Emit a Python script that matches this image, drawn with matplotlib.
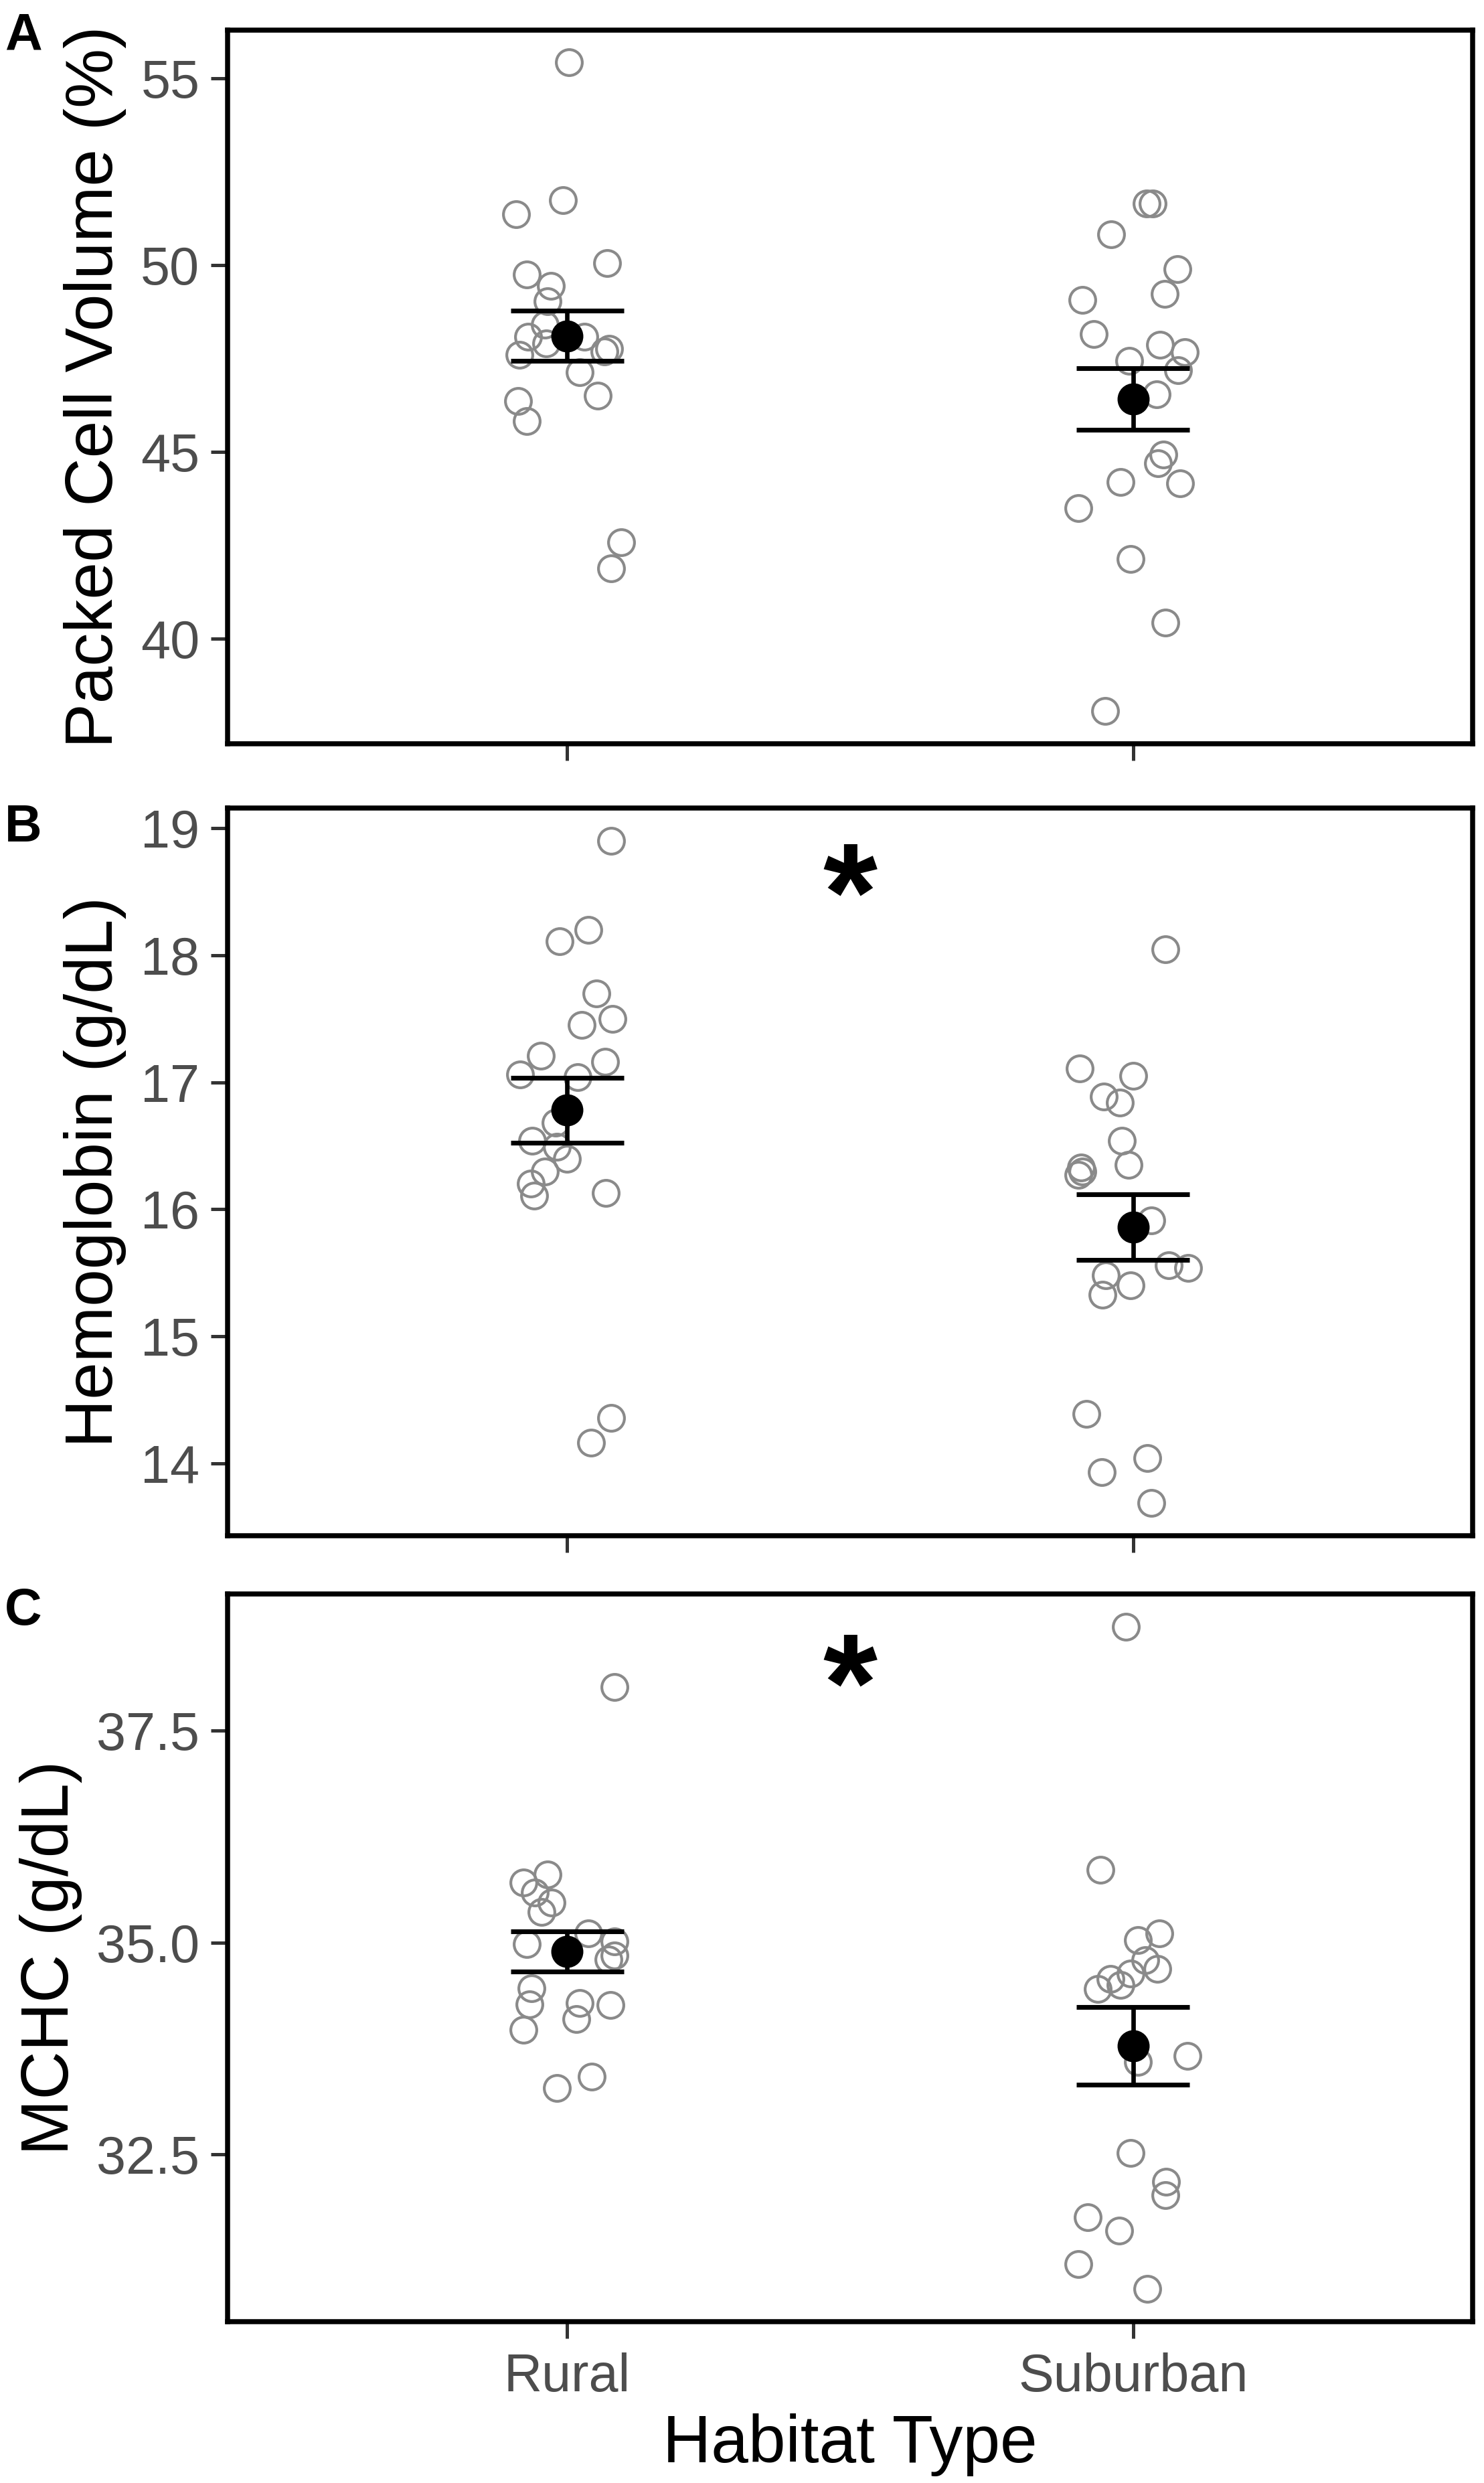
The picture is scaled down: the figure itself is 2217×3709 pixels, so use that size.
import matplotlib
matplotlib.use("Agg")
import matplotlib.pyplot as plt
import numpy as np

plt.rcParams["font.family"] = ["Liberation Sans", "DejaVu Sans"]

habitats = ["Rural", "Suburban"]

# Panel A: packed cell volume (%), values and horizontal jitter
pcv_rural = [55.42, 51.73, 51.36, 50.05, 49.75, 49.44, 49.03, 48.40, 48.07, 47.90,
             48.07, 47.69, 47.75, 47.60, 47.12, 46.50, 46.35, 45.82, 42.58, 41.88]
pcv_rural_jit = [0.003, -0.008, -0.090, 0.071, -0.071, -0.029, -0.035, -0.040, -0.069, -0.037,
                 0.030, 0.066, 0.074, -0.085, 0.022, 0.054, -0.087, -0.071, 0.095, 0.078]
pcv_suburban = [51.64, 51.64, 50.82, 49.89, 49.23, 49.07, 48.15, 47.87, 47.67, 47.43,
                47.18, 46.53, 44.92, 44.69, 44.18, 44.15, 43.48, 42.12, 40.42, 38.05]
pcv_suburban_jit = [0.024, 0.034, -0.039, 0.078, 0.056, -0.090, -0.070, 0.047, 0.091, -0.007,
                    0.080, 0.041, 0.053, 0.044, -0.022, 0.083, -0.097, -0.004, 0.057, -0.050]
pcv_mean = [48.10, 46.41]
pcv_se = [0.67, 0.83]

# Panel B: hemoglobin (g/dL)
hb_rural = [18.90, 18.20, 18.11, 17.70, 17.50, 17.45, 17.21, 17.16, 17.06, 17.04,
            16.68, 16.54, 16.49, 16.40, 16.30, 16.20, 16.11, 16.13, 14.36, 14.16]
hb_rural_jit = [0.078, 0.037, -0.013, 0.052, 0.080, 0.026, -0.046, 0.067, -0.083, 0.018,
                -0.020, -0.062, -0.018, -0.001, -0.040, -0.064, -0.058, 0.068, 0.078, 0.042]
hb_suburban = [18.05, 17.11, 17.05, 16.89, 16.84, 16.54, 16.35, 16.33, 16.30, 16.27,
               15.91, 15.56, 15.54, 15.48, 15.40, 15.33, 14.39, 14.04, 13.93, 13.69]
hb_suburban_jit = [0.057, -0.094, 0.000, -0.052, -0.024, -0.020, -0.008, -0.092, -0.090, -0.097,
                   0.032, 0.063, 0.097, -0.048, -0.004, -0.054, -0.083, 0.025, -0.055, 0.032]
hb_mean = [16.78, 15.86]
hb_se = [0.255, 0.26]

# Panel C: MCHC (g/dL)
mchc_rural = [38.01, 35.80, 35.71, 35.59, 35.47, 35.36, 35.11, 35.01, 34.98, 34.85,
              34.80, 34.46, 34.27, 34.29, 34.26, 34.10, 33.97, 33.42, 33.28]
mchc_rural_jit = [0.083, -0.035, -0.077, -0.057, -0.028, -0.045, 0.037, 0.083, -0.071, 0.083,
                  0.073, -0.063, -0.067, 0.022, 0.077, 0.016, -0.077, 0.043, -0.018]
mchc_suburban = [38.72, 35.86, 35.11, 35.03, 34.79, 34.69, 34.63, 34.57, 34.50, 34.45,
                 33.66, 33.59, 32.52, 32.18, 32.02, 31.76, 31.60, 31.21, 30.92]
mchc_suburban_jit = [-0.013, -0.058, 0.046, 0.009, 0.021, 0.043, -0.005, -0.040, -0.022, -0.062,
                     0.096, 0.009, -0.005, 0.058, 0.057, -0.080, -0.025, -0.097, 0.025]
mchc_mean = [34.895, 33.78]
mchc_se = [0.235, 0.46]

pcv_ticks = [40, 45, 50, 55]
hb_ticks = [14, 15, 16, 17, 18, 19]
mchc_ticks = [32.5, 35.0, 37.5]


def draw_panel(ax, rural, rural_jit, suburban, suburban_jit, means, ses, ylabel, yticks, ytick_fmt, show_x):
	# Raw points as open grey circles
	groups = [(rural, rural_jit), (suburban, suburban_jit)]
	for i, (vals, jit) in enumerate(groups):
		xs = np.array(jit) + i + 1
		ax.plot(xs, vals, linestyle="none", marker="o", markersize=9.3,
				markerfacecolor="none", markeredgecolor="#8a8a8a", markeredgewidth=1.0, zorder=2)

	# Mean +/- SE with wide caps
	for i in range(2):
		x = i + 1
		lo = means[i] - ses[i]
		hi = means[i] + ses[i]
		ax.vlines(x, lo, hi, color="black", linewidth=1.6, zorder=3)
		ax.hlines([lo, hi], x - 0.1, x + 0.1, color="black", linewidth=1.7, zorder=3)
		ax.plot(x, means[i], marker="o", markersize=10.5, color="black", zorder=4)

	# ggplot style 5% expansion on y
	allv = list(rural) + list(suburban)
	rng = max(allv) - min(allv)
	ax.set_ylim(min(allv) - 0.05 * rng, max(allv) + 0.05 * rng)
	ax.set_xlim(0.4, 2.6)
	ax.set_xticks([1, 2])
	ax.set_yticks(yticks)
	ax.set_yticklabels([ytick_fmt % t for t in yticks])
	if show_x:
		ax.set_xticklabels(habitats)
	else:
		ax.set_xticklabels([])
	ax.set_ylabel(ylabel, fontsize=24, labelpad=5)
	ax.tick_params(axis="both", length=6, width=1.2, color="#333333",
				   labelcolor="#4d4d4d", labelsize=19)
	ax.tick_params(axis="y", pad=4)
	ax.tick_params(axis="x", pad=5)
	for sp in ax.spines.values():
		sp.set_linewidth(1.8)
		sp.set_color("black")


fig = plt.figure(figsize=(2217 / 300, 3709 / 300), dpi=300)
ax_a = fig.add_axes([0.1534, 0.7005, 0.839, 0.2874])
ax_b = fig.add_axes([0.1534, 0.3815, 0.839, 0.2931])
ax_c = fig.add_axes([0.1534, 0.0650, 0.839, 0.2931])

draw_panel(ax_a, pcv_rural, pcv_rural_jit, pcv_suburban, pcv_suburban_jit, pcv_mean, pcv_se,
		   "Packed Cell Volume (%)", pcv_ticks, "%d", False)
draw_panel(ax_b, hb_rural, hb_rural_jit, hb_suburban, hb_suburban_jit, hb_mean, hb_se,
		   "Hemoglobin (g/dL)", hb_ticks, "%d", False)
draw_panel(ax_c, mchc_rural, mchc_rural_jit, mchc_suburban, mchc_suburban_jit, mchc_mean, mchc_se,
		   "MCHC (g/dL)", mchc_ticks, "%.1f", True)
ax_c.set_xlabel("Habitat Type", fontsize=24, labelpad=4)

# significance marks
ax_b.text(0.5, 0.869, "*", transform=ax_b.transAxes, ha="center", va="center",
		  fontsize=50, fontweight="bold")
ax_c.text(0.5, 0.862, "*", transform=ax_c.transAxes, ha="center", va="center",
		  fontsize=50, fontweight="bold")

# panel letters
fig.text(7 / 2217, 1 - 17 / 3709, "A", fontsize=18.5, fontweight="bold", va="top")
fig.text(7 / 2217, 1 - 1200 / 3709, "B", fontsize=18.5, fontweight="bold", va="top")
fig.text(7 / 2217, 1 - 2370 / 3709, "C", fontsize=18.5, fontweight="bold", va="top")

fig.savefig("out.png", dpi=300)
